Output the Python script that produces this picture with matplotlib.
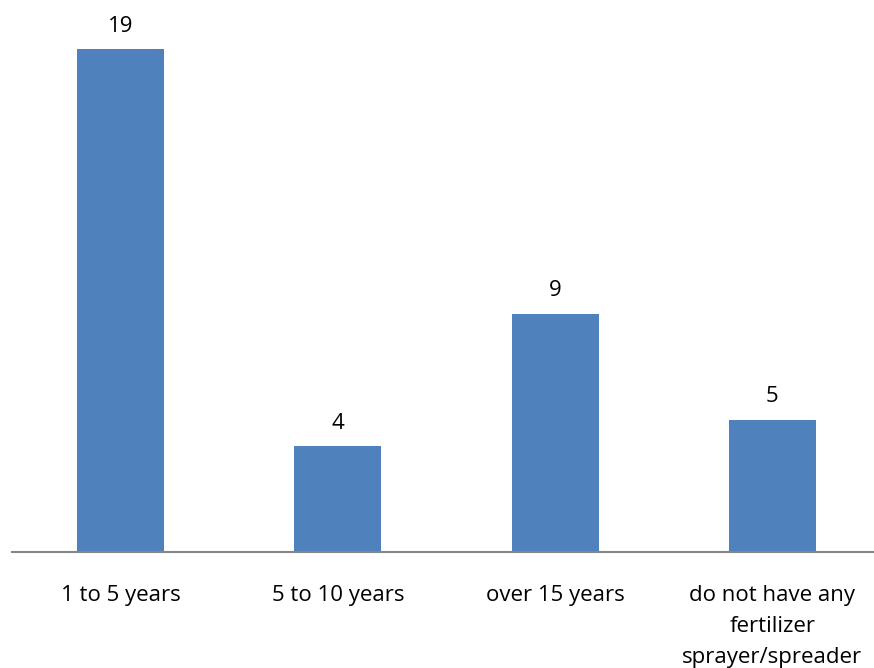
import numpy as np
import matplotlib
matplotlib.use('Agg')
import matplotlib.pyplot as plt

plt.rcParams['font.family'] = ['Open Sans', 'DejaVu Sans']
plt.rcParams['font.size'] = 16

categories = ['1 to 5 years', '5 to 10 years', 'over 15 years',
              'do not have any\nfertilizer\nsprayer/spreader']
counts = [19, 4, 9, 5]

fig = plt.figure(figsize=(8.74, 6.68), dpi=100)
# axes spans from x=12px, baseline at y=552px
ax = fig.add_axes([12/874, 116/668, 869/874, 529/668])

x = np.arange(len(categories))
bars = ax.bar(x, counts, width=0.4, color='#4F81BD')

for b, v in zip(bars, counts):
    ax.annotate(str(v), (b.get_x() + b.get_width()/2, v),
                xytext=(0, 9), textcoords='offset points',
                ha='center', va='bottom', fontsize=16)

ax.set_xlim(-0.5, 3.5)
ax.set_ylim(0, 20)
ax.set_xticks(x)
ax.set_xticklabels(categories, linespacing=1.62)
ax.tick_params(axis='x', length=0, pad=24)
ax.set_yticks([])

for s in ['top', 'right', 'left']:
    ax.spines[s].set_visible(False)
ax.spines['bottom'].set_color('#868686')
ax.spines['bottom'].set_linewidth(1.5)

fig.savefig('out.png', dpi=100)
